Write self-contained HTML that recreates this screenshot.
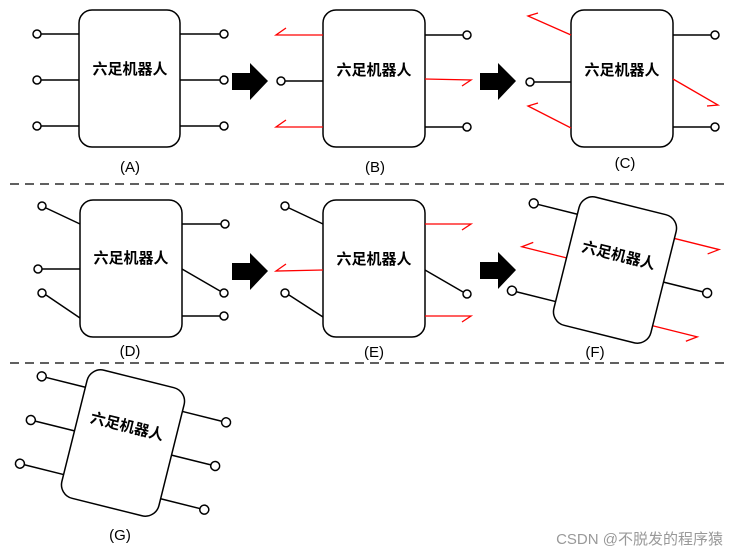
<!DOCTYPE html>
<html><head><meta charset="utf-8"><style>
html,body{margin:0;padding:0;background:#fff;}
svg{display:block;}
text{font-family:"Liberation Sans","Noto Sans CJK SC",sans-serif;}
</style></head><body>
<svg width="739" height="557" viewBox="0 0 739 557" xmlns="http://www.w3.org/2000/svg">
<defs>
<g id="arrow"><polygon points="0,10 18,10 18,0 36,18 18,37 18,27 0,27" fill="#000"/></g>
</defs>
<g stroke="#000" stroke-width="1.5" fill="none">
<rect x="79" y="10" width="101" height="137" rx="13"/>
<line x1="41" y1="34" x2="79" y2="34"/><line x1="41" y1="80" x2="79" y2="80"/><line x1="41" y1="126" x2="79" y2="126"/>
<line x1="180" y1="34" x2="220" y2="34"/><line x1="180" y1="80" x2="220" y2="80"/><line x1="180" y1="126" x2="220" y2="126"/>
<rect x="323" y="10" width="102" height="137" rx="13"/>
<line x1="285" y1="81" x2="323" y2="81"/>
<line x1="425" y1="35" x2="463" y2="35"/><line x1="425" y1="127" x2="463" y2="127"/>
<rect x="571" y="10" width="102" height="137" rx="13"/>
<line x1="534" y1="82" x2="571" y2="82"/>
<line x1="673" y1="35" x2="711" y2="35"/><line x1="673" y1="127" x2="711" y2="127"/>
<rect x="80" y="200" width="102" height="137" rx="13"/>
<line x1="46" y1="208" x2="80" y2="224"/><line x1="42" y1="269" x2="80" y2="269"/><line x1="46" y1="295" x2="80" y2="318"/>
<line x1="182" y1="224" x2="221" y2="224"/><line x1="182" y1="269" x2="220" y2="291"/><line x1="182" y1="316" x2="220" y2="316"/>
<rect x="323" y="200" width="102" height="137" rx="13"/>
<line x1="289" y1="208" x2="323" y2="224"/><line x1="289" y1="295" x2="323" y2="317"/>
<line x1="425" y1="270" x2="463" y2="292"/>
</g>
<g stroke="#f00" stroke-width="1.3" fill="none">
<polyline points="323,35 276,35 286,28"/>
<polyline points="323,127 276,127 286,120"/>
<polyline points="425,79 471,80 462,86"/>
<polyline points="571,35 528,16 538,13"/>
<polyline points="571,128 528,106 538,103"/>
<polyline points="673,79 718,105 707,106"/>
<polyline points="323,270 276,271 286,264"/>
<polyline points="425,224 471,224 462,230"/>
<polyline points="425,316 471,316 462,322"/>
</g>
<g fill="#fff" stroke="#000" stroke-width="1.5">
<circle cx="37" cy="34" r="4"/><circle cx="37" cy="80" r="4"/><circle cx="37" cy="126" r="4"/>
<circle cx="224" cy="34" r="4"/><circle cx="224" cy="80" r="4"/><circle cx="224" cy="126" r="4"/>
<circle cx="281" cy="81" r="4"/><circle cx="467" cy="35" r="4"/><circle cx="467" cy="127" r="4"/>
<circle cx="530" cy="82" r="4"/><circle cx="715" cy="35" r="4"/><circle cx="715" cy="127" r="4"/>
<circle cx="42" cy="206" r="4"/><circle cx="38" cy="269" r="4"/><circle cx="42" cy="293" r="4"/>
<circle cx="225" cy="224" r="4"/><circle cx="224" cy="293" r="4"/><circle cx="224" cy="316" r="4"/>
<circle cx="285" cy="206" r="4"/><circle cx="285" cy="293" r="4"/><circle cx="467" cy="294" r="4"/>
</g>
<use href="#arrow" x="232" y="63"/><use href="#arrow" x="480" y="63"/>
<use href="#arrow" x="232" y="253"/><use href="#arrow" x="480" y="252"/>
<g font-size="15" font-weight="bold" text-anchor="middle" fill="#000">
<text x="130" y="74">六足机器人</text>
<text x="374" y="75">六足机器人</text>
<text x="622" y="75">六足机器人</text>
<text x="131" y="263">六足机器人</text>
<text x="374" y="264">六足机器人</text>
</g>
<g font-size="15" text-anchor="middle" fill="#000">
<text x="130" y="172">(A)</text><text x="375" y="172">(B)</text><text x="625" y="168">(C)</text>
<text x="130" y="356">(D)</text><text x="374" y="357">(E)</text><text x="595" y="357">(F)</text>
<text x="120" y="540">(G)</text>
</g>
<line x1="10" y1="184" x2="729" y2="184" stroke="#000" stroke-width="1.3" stroke-dasharray="9,6"/>
<line x1="10" y1="363" x2="729" y2="363" stroke="#000" stroke-width="1.3" stroke-dasharray="9,6"/>
<g transform="translate(615,270) rotate(14)">
<g stroke="#000" stroke-width="1.5" fill="none">
<line x1="-91" y1="-45" x2="-50" y2="-45"/><line x1="-91" y1="45" x2="-50" y2="45"/>
<line x1="50" y1="0" x2="91" y2="0"/>
</g>
<g stroke="#f00" stroke-width="1.3" fill="none">
<polyline points="-50,0 -96,0 -86,-7"/>
<polyline points="50,-45 96,-45 86,-38"/>
<polyline points="50,45 96,45 86,52"/>
</g>
<rect x="-50" y="-66" width="100" height="132" rx="14" fill="#fff" stroke="#000" stroke-width="1.5"/>
<g fill="#fff" stroke="#000" stroke-width="1.5">
<circle cx="-95" cy="-45" r="4.5"/><circle cx="-95" cy="45" r="4.5"/><circle cx="95" cy="0" r="4.5"/>
</g>
<text x="0" y="-10" font-size="15" font-weight="bold" text-anchor="middle" font-family="'Noto Serif CJK SC',serif">六足机器人</text>
</g>
<g transform="translate(123,443) rotate(14)">
<g stroke="#000" stroke-width="1.5" fill="none">
<line x1="-91" y1="-45" x2="-50" y2="-45"/><line x1="-91" y1="0" x2="-50" y2="0"/><line x1="-91" y1="45" x2="-50" y2="45"/>
<line x1="50" y1="-45" x2="91" y2="-45"/><line x1="50" y1="0" x2="91" y2="0"/><line x1="50" y1="45" x2="91" y2="45"/>
</g>
<rect x="-50" y="-66" width="100" height="132" rx="14" fill="#fff" stroke="#000" stroke-width="1.5"/>
<g fill="#fff" stroke="#000" stroke-width="1.5">
<circle cx="-95" cy="-45" r="4.5"/><circle cx="-95" cy="0" r="4.5"/><circle cx="-95" cy="45" r="4.5"/>
<circle cx="95" cy="-45" r="4.5"/><circle cx="95" cy="0" r="4.5"/><circle cx="95" cy="45" r="4.5"/>
</g>
<text x="0" y="-12" font-size="15" font-weight="bold" text-anchor="middle" font-family="'Noto Serif CJK SC',serif">六足机器人</text>
</g>
<text x="723" y="544" font-size="15" text-anchor="end" fill="#999">CSDN @不脱发的程序猿</text>
</svg>
</body></html>
